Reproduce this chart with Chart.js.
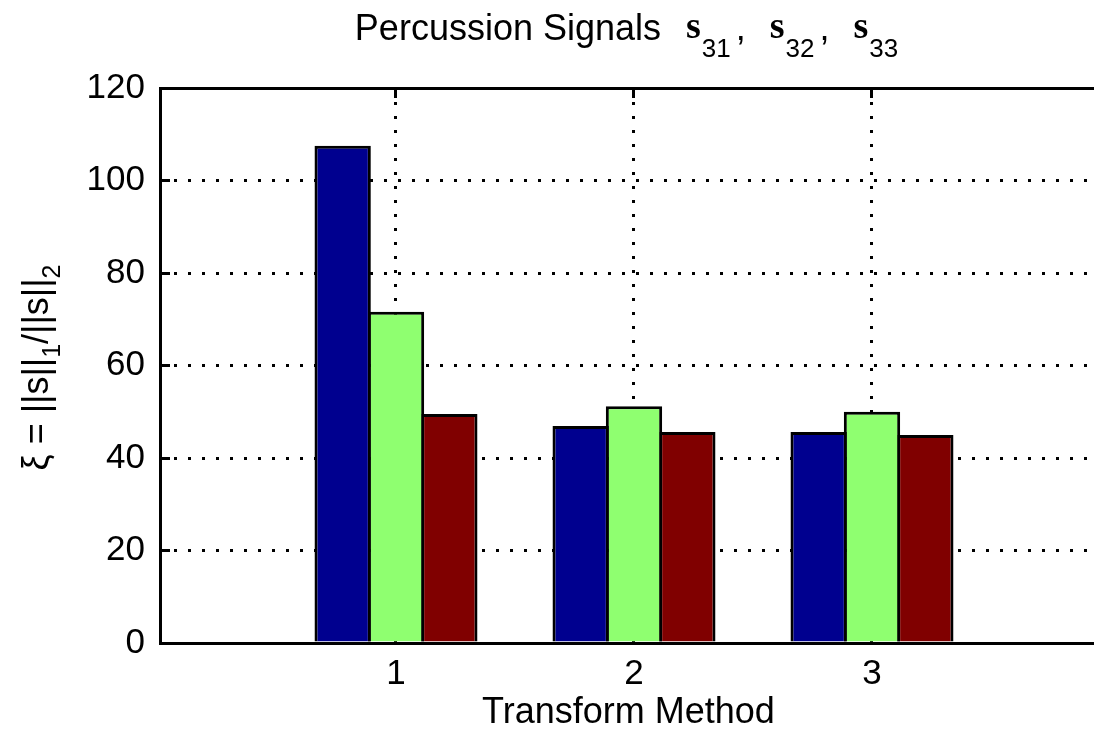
<!DOCTYPE html>
<html>
<head>
<meta charset="utf-8">
<title>Percussion Signals</title>
<script src="https://cdn.jsdelivr.net/npm/chart.js@4.4.1/dist/chart.umd.min.js"></script>
<style>
  html, body { margin: 0; padding: 0; background: #fff; overflow: hidden; }
  #wrap { position: relative; width: 1100px; height: 743px; }
</style>
</head>
<body>
<div id="wrap"><canvas id="chart"></canvas></div>
<script>
// Transform methods on the x axis
const methods = [1, 2, 3];
// Sparsity measure xi = ||s||_1 / ||s||_2 for each signal
const s31 = [107.5, 46.9, 45.6];
const s32 = [71.6, 51.2, 50.0];
const s33 = [49.5, 45.6, 45.0];
// Value axis ticks
const yTicks = [0, 20, 40, 60, 80, 100, 120];

const SANS = '"Liberation Sans", Arial, Helvetica, sans-serif';
const SERIF = '"Liberation Serif", "Times New Roman", serif';

Chart.defaults.font.family = SANS;
Chart.defaults.color = '#000';

function series(label, values, color) {
  return {
    label: label,
    data: methods.map((m, i) => ({ x: m, y: values[i] })),
    backgroundColor: color,
    borderColor: '#000',
    borderWidth: 3,
    categoryPercentage: 0.6723,
    barPercentage: 1.0563
  };
}

// Lay out text runs one after the other (used for subscripted labels)
function runsWidth(ctx, runs) {
  let w = 0;
  for (const r of runs) {
    ctx.font = r.font;
    w += (r.gap || 0) + ctx.measureText(r.text).width;
  }
  return w;
}
function drawRuns(ctx, runs, x, y) {
  for (const r of runs) {
    x += r.gap || 0;
    ctx.font = r.font;
    ctx.fillText(r.text, x, y + (r.dy || 0));
    x += ctx.measureText(r.text).width;
  }
}

const BOLD_S = `bold 38px ${SERIF}`;
const SUB = `26px ${SANS}`;
const titleRuns = [
  { text: 'Percussion Signals', font: `36px ${SANS}` },
  { text: 's', font: BOLD_S, dy: -2.5, gap: 25 },
  { text: '31', font: SUB, dy: 17, gap: 1 },
  { text: ',', font: `36px ${SANS}`, gap: 5 },
  { text: 's', font: BOLD_S, dy: -2.5, gap: 24 },
  { text: '32', font: SUB, dy: 17, gap: 1 },
  { text: ',', font: `36px ${SANS}`, gap: 5 },
  { text: 's', font: BOLD_S, dy: -2.5, gap: 24 },
  { text: '33', font: SUB, dy: 17, gap: 1 }
];

const yLabelRuns = [
  { text: 'ξ', font: `36px ${SANS}` },
  { text: ' = ', font: `36px ${SANS}` },
  { text: '||s||', font: `36px ${SANS}` },
  { text: '1', font: `25px ${SANS}`, dy: 12 },
  { text: '/', font: `36px ${SANS}` },
  { text: '||s||', font: `36px ${SANS}` },
  { text: '2', font: `25px ${SANS}`, dy: 12 }
];

// Axes box, inward tick marks, title and rotated y label
const axesDecor = {
  id: 'axesDecor',
  beforeDatasetsDraw(chart) {
    const { ctx, chartArea: a, scales } = chart;
    const align = p => Math.round(p - 1.5) + 1.5;
    ctx.save();
    ctx.strokeStyle = '#000';
    ctx.lineWidth = 3;
    ctx.beginPath();
    for (const v of yTicks) {
      const y = align(scales.y.getPixelForValue(v));
      ctx.moveTo(a.left, y);
      ctx.lineTo(a.left + 10, y);
    }
    for (const m of methods) {
      const x = align(scales.x.getPixelForValue(m));
      ctx.moveTo(x, a.top);
      ctx.lineTo(x, a.top + 10);
      ctx.moveTo(x, a.bottom);
      ctx.lineTo(x, a.bottom - 10);
    }
    ctx.stroke();
    ctx.restore();
  },
  afterDatasetsDraw(chart) {
    const { ctx, chartArea: a } = chart;
    ctx.save();
    ctx.strokeStyle = '#000';
    ctx.lineWidth = 3;
    ctx.strokeRect(a.left + 0.5, a.top + 0.5, a.right - a.left, a.bottom - a.top);
    ctx.restore();
  },
  afterDraw(chart) {
    const { ctx, chartArea: a } = chart;
    ctx.save();
    ctx.fillStyle = '#000';
    ctx.textBaseline = 'alphabetic';
    ctx.textAlign = 'left';
    // title
    const tw = runsWidth(ctx, titleRuns);
    const cx = (a.left + a.right) / 2 - 2;
    drawRuns(ctx, titleRuns, cx - tw / 2, 40);
    // y-axis label
    const lw = runsWidth(ctx, yLabelRuns);
    ctx.translate(48, (a.top + a.bottom) / 2 + 2);
    ctx.rotate(-Math.PI / 2);
    drawRuns(ctx, yLabelRuns, -lw / 2, 0);
    ctx.restore();
  }
};

const dotted = {
  lineWidth: 3,
  dash: [3, 11]
};

new Chart(document.getElementById('chart'), {
  type: 'bar',
  data: {
    datasets: [
      series('s31', s31, '#00008f'),
      series('s32', s32, '#8fff70'),
      series('s33', s33, '#800000')
    ]
  },
  options: {
    responsive: true,
    maintainAspectRatio: false,
    animation: false,
    events: [],
    layout: { padding: { top: 88, right: 3, left: 0, bottom: 0 } },
    plugins: {
      legend: { display: false },
      title: { display: false },
      tooltip: { enabled: false }
    },
    scales: {
      x: {
        type: 'linear',
        min: 0.0084,
        max: 3.9454,
        offset: false,
        afterBuildTicks(scale) { scale.ticks = methods.map(v => ({ value: v })); },
        afterFit(scale) { scale.height = 100; },
        ticks: {
          padding: 10,
          font: { size: 35 },
          color: '#000',
          callback: v => String(v)
        },
        grid: {
          offset: false,
          drawTicks: false,
          color: '#000',
          lineWidth: dotted.lineWidth
        },
        border: { display: false, dash: dotted.dash },
        title: {
          display: true,
          text: 'Transform Method',
          font: { size: 36 },
          color: '#000',
          padding: { top: 0, bottom: 8 }
        }
      },
      y: {
        min: 0,
        max: 120,
        afterBuildTicks(scale) { scale.ticks = yTicks.map(v => ({ value: v })); },
        afterFit(scale) { scale.width = 160; },
        ticks: {
          padding: 15,
          font: { size: 35 },
          color: '#000'
        },
        grid: {
          drawTicks: false,
          lineWidth: dotted.lineWidth,
          color: c => (c.tick && (c.tick.value === 0 || c.tick.value === 120)) ? 'rgba(0,0,0,0)' : '#000'
        },
        border: { display: false, dash: dotted.dash }
      }
    }
  },
  plugins: [axesDecor]
});
</script>
</body>
</html>
